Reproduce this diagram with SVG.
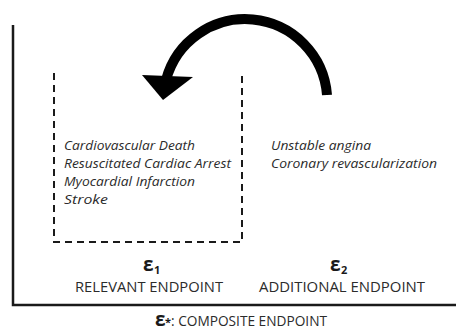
<svg xmlns="http://www.w3.org/2000/svg" width="456" height="331" viewBox="0 0 456 331">
  <style>
    .axis { fill: none; stroke: #1a1a1a; stroke-width: 2.5; }
    .dash { fill: none; stroke: #1a1a1a; stroke-width: 2; stroke-dasharray: 7 5; }
    .item { font-family: "Open Sans", "Liberation Sans", sans-serif; font-style: italic; font-size: 13px; fill: #2b2b2b; }
    .cap { font-family: "Open Sans", "Liberation Sans", sans-serif; font-size: 14px; fill: #2b2b2b; }
    .eps { font-family: "Open Sans", "DejaVu Sans", sans-serif; font-weight: bold; font-size: 19px; fill: #1a1a1a; }
    .sub { font-family: "Open Sans", "DejaVu Sans", sans-serif; font-weight: bold; font-size: 11px; fill: #1a1a1a; }
  </style>
  <rect width="456" height="331" fill="#ffffff"/>
  <g id="axes">
    <path class="axis" d="M13 25 V305 H456"/>
  </g>
  <g id="relevant-endpoint">
    <path class="dash" d="M54 73 V242 H242 V73"/>
    <text class="item" x="64" y="150" textLength="131" lengthAdjust="spacingAndGlyphs">Cardiovascular Death</text>
    <text class="item" x="64" y="168" textLength="167" lengthAdjust="spacingAndGlyphs">Resuscitated Cardiac Arrest</text>
    <text class="item" x="64" y="186" textLength="131" lengthAdjust="spacingAndGlyphs">Myocardial Infarction</text>
    <text class="item" x="64" y="204" textLength="44" lengthAdjust="spacingAndGlyphs">Stroke</text>
    <text class="eps" x="143" y="271">ε</text>
    <text class="sub" x="154" y="274">1</text>
    <text class="cap" x="149" y="292" text-anchor="middle" textLength="148" lengthAdjust="spacingAndGlyphs">RELEVANT ENDPOINT</text>
  </g>
  <g id="additional-endpoint">
    <text class="item" x="271" y="150" textLength="100" lengthAdjust="spacingAndGlyphs">Unstable angina</text>
    <text class="item" x="271" y="168" textLength="166" lengthAdjust="spacingAndGlyphs">Coronary revascularization</text>
    <text class="eps" x="330" y="271">ε</text>
    <text class="sub" x="341" y="274">2</text>
    <text class="cap" x="342" y="292" text-anchor="middle" textLength="166" lengthAdjust="spacingAndGlyphs">ADDITIONAL ENDPOINT</text>
  </g>
  <g id="composite-endpoint">
    <text class="eps" x="155" y="326" font-size="17">ε</text>
    <text class="sub" x="165" y="326" font-size="8">*</text>
    <text class="cap" x="171" y="326" textLength="156" lengthAdjust="spacingAndGlyphs">: COMPOSITE ENDPOINT</text>
  </g>
  <g id="connectors">
    <path d="M327 95 A82 82 0 0 0 166 80" fill="none" stroke="#000" stroke-width="10"/>
    <polygon points="142,75 193,77 163,100" fill="#000"/>
  </g>
</svg>
